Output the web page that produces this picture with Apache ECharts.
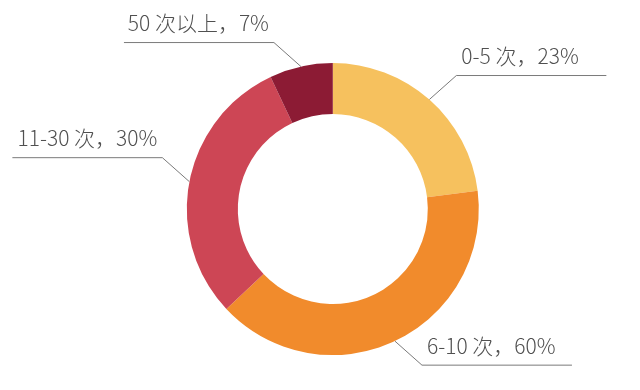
<!DOCTYPE html>
<html><head><meta charset="utf-8">
<script src="https://cdn.jsdelivr.net/npm/echarts@6/dist/echarts.min.js"></script>
<style>html,body{margin:0;padding:0;background:#fff}#c{width:640px;height:390px}</style>
</head><body><div id="c"></div>
<script>
// Categories and the percentages printed next to them
const categories = ['0-5 次', '6-10 次', '11-30 次', '50 次以上'];
const printedShares = ['23%', '60%', '30%', '7%'];
// Arc sizes as drawn in the ring (percent of the circle)
const arcValues = [23, 40, 30, 7];

const chart = echarts.init(document.getElementById('c'), null, {renderer: 'canvas'});
const data = categories.map((c, i) => ({name: c, value: arcValues[i]}));

chart.setOption({
  animation: false,
  backgroundColor: '#ffffff',
  color: ['#F6C15E', '#F18B2C', '#CD4655', '#8C1B34'],
  series: [{
    type: 'pie',
    center: ['52%', '53.6%'],
    radius: [95, 146],
    startAngle: 90,
    clockwise: true,
    avoidLabelOverlap: false,
    data: data,
    itemStyle: {borderWidth: 0},
    label: {
      show: true,
      position: 'outside',
      formatter: p => p.name + '，' + printedShares[p.dataIndex],
      fontFamily: '"Noto Sans CJK SC", "Noto Sans", sans-serif',
      fontSize: 21,
      fontWeight: 300,
      color: '#505050'
    },
    labelLine: {
      show: true,
      length: 30,
      length2: 10,
      lineStyle: {color: '#7a7a7a', width: 1}
    },
    labelLayout: function (p) {
      const pts = p.labelLinePoints;
      if (!pts) return {};
      const a = pts[0], b = pts[1];
      const sx = b[0] >= a[0] ? 1 : -1;
      const sy = b[1] >= a[1] ? 1 : -1;
      const bend = [a[0] + sx * 27, a[1] + sy * 24];
      const end = [bend[0] + sx * 150, bend[1]];
      return {
        x: bend[0] + sx * 5,
        y: bend[1] - 9,
        align: sx > 0 ? 'left' : 'right',
        verticalAlign: 'bottom',
        labelLinePoints: [a, bend, end]
      };
    },
    emphasis: {disabled: true}
  }]
});
</script>
</body></html>
